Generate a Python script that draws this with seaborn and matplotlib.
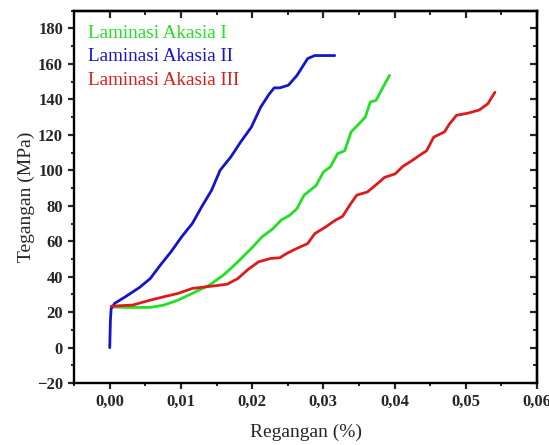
import numpy as np
import pandas as pd

import matplotlib
matplotlib.use("Agg")
import matplotlib.pyplot as plt
from matplotlib.ticker import MultipleLocator, FuncFormatter
import seaborn as sns
sns.set_style("ticks")
plt.rcParams["font.family"] = ["Liberation Serif", "DejaVu Serif"]
plt.rcParams["axes.unicode_minus"] = True


# %% data
strain_1 = [0.0002, 0.0022, 0.0057, 0.0076, 0.0096, 0.0116, 0.0140, 0.0160, 0.0180,
            0.0199, 0.0214, 0.0229, 0.0241, 0.0253, 0.0263, 0.0273, 0.0290, 0.0300,
            0.0310, 0.0320, 0.0330, 0.0339, 0.0352, 0.0359, 0.0366, 0.0374, 0.0384,
            0.0393]
stress_1 = [23.0, 22.7, 22.7, 24.0, 26.8, 30.6, 35.3, 41.0, 48.4,
            56.0, 62.5, 67.0, 72.0, 74.7, 78.4, 86.0, 91.5, 99.0,
            102.0, 109.4, 111.0, 121.6, 127.0, 130.0, 138.5, 139.4, 147.0,
            153.5]

strain_2 = [0.0, 0.0001, 0.0002, 0.0007, 0.0022, 0.0042, 0.0057, 0.0071, 0.0086,
            0.0101, 0.0116, 0.0130, 0.0143, 0.0155, 0.0170, 0.0184, 0.0199, 0.0212,
            0.0224, 0.0231, 0.0239, 0.0251, 0.0263, 0.0278, 0.0288, 0.0316]
stress_2 = [0.0, 15.6, 22.0, 25.0, 28.7, 34.0, 39.0, 46.5, 54.0,
            62.5, 70.0, 80.0, 88.7, 100.0, 107.5, 116.0, 124.4, 135.6,
            143.0, 146.5, 146.5, 148.0, 153.5, 163.0, 164.7, 164.7]

strain_3 = [0.0002, 0.0032, 0.0057, 0.0076, 0.0096, 0.0116, 0.0135, 0.0150, 0.0165,
            0.0180, 0.0194, 0.0209, 0.0226, 0.0239, 0.0248, 0.0263, 0.0278, 0.0288,
            0.0303, 0.0317, 0.0327, 0.0337, 0.0347, 0.0362, 0.0376, 0.0386, 0.0401,
            0.0411, 0.0425, 0.0435, 0.0445, 0.0455, 0.0470, 0.0477, 0.0487, 0.0504,
            0.0519, 0.0531, 0.0541]
stress_3 = [23.4, 24.0, 26.8, 28.7, 30.6, 33.4, 34.3, 35.0, 35.8,
            39.0, 44.0, 48.4, 50.3, 50.7, 53.0, 56.0, 58.7, 64.3,
            68.0, 71.9, 74.0, 80.3, 86.0, 87.8, 92.5, 96.0, 98.0,
            102.0, 105.6, 108.4, 111.0, 118.7, 121.6, 126.0, 131.0, 132.3,
            134.0, 137.5, 144.0]

labels = ["Laminasi Akasia I", "Laminasi Akasia II", "Laminasi Akasia III"]
colors = ["#22e022", "#1414cc", "#e01a1a"]

df = pd.concat([
    pd.DataFrame({"strain": strain_1, "stress": stress_1, "sample": labels[0]}),
    pd.DataFrame({"strain": strain_2, "stress": stress_2, "sample": labels[1]}),
    pd.DataFrame({"strain": strain_3, "stress": stress_3, "sample": labels[2]}),
], ignore_index=True)


# %%
fig = plt.figure(figsize=(5.49, 4.45), dpi=100)
ax = fig.add_axes([0.135, 0.139, 0.843, 0.837])
sns.lineplot(data=df, x="strain", y="stress", hue="sample", palette=colors,
             hue_order=labels, sort=False, estimator=None, linewidth=2.0,
             legend=False, ax=ax)

ax.set_xlim(-0.005, 0.06)
ax.set_ylim(-20, 190)
ax.xaxis.set_major_locator(MultipleLocator(0.01))
ax.xaxis.set_minor_locator(MultipleLocator(0.005))
ax.yaxis.set_major_locator(MultipleLocator(20))
ax.yaxis.set_minor_locator(MultipleLocator(10))
ax.xaxis.set_major_formatter(FuncFormatter(lambda v, p: f"{v:.2f}".replace(".", ",")))
ax.yaxis.set_major_formatter(FuncFormatter(lambda v, p: f"{v:.0f}".replace("-", "\u2212")))

for s in ax.spines.values():
    s.set_linewidth(1.7)
    s.set_color("black")
ax.tick_params(which="major", direction="out", length=4.5, width=1.6, labelsize=12, pad=3.5)
ax.tick_params(which="minor", direction="out", length=2.5, width=1.4)
for lab in ax.get_xticklabels() + ax.get_yticklabels():
    lab.set_fontweight("bold")

# mirrored inward ticks on top and right
top = ax.secondary_xaxis("top")
top.xaxis.set_major_locator(MultipleLocator(0.01))
top.xaxis.set_minor_locator(MultipleLocator(0.005))
top.tick_params(which="major", direction="in", length=5, width=1.6, labeltop=False)
top.tick_params(which="minor", direction="in", length=3, width=1.4)
right = ax.secondary_yaxis("right")
right.yaxis.set_major_locator(MultipleLocator(20))
right.yaxis.set_minor_locator(MultipleLocator(10))
right.tick_params(which="major", direction="in", length=5, width=1.6, labelright=False)
right.tick_params(which="minor", direction="in", length=3, width=1.4)
top.spines["top"].set_linewidth(1.7)
right.spines["right"].set_linewidth(1.7)

ax.set_xlabel("Regangan (%)", fontsize=14, labelpad=10)
ax.set_ylabel("Tegangan (MPa)", fontsize=14, labelpad=1)

for i, (lab, c) in enumerate(zip(labels, colors)):
    ax.text(0.03, 0.94 - i * 0.064, lab, color=c, fontsize=13.8,
            transform=ax.transAxes, va="center", ha="left")

fig.savefig("out.png", dpi=100)
